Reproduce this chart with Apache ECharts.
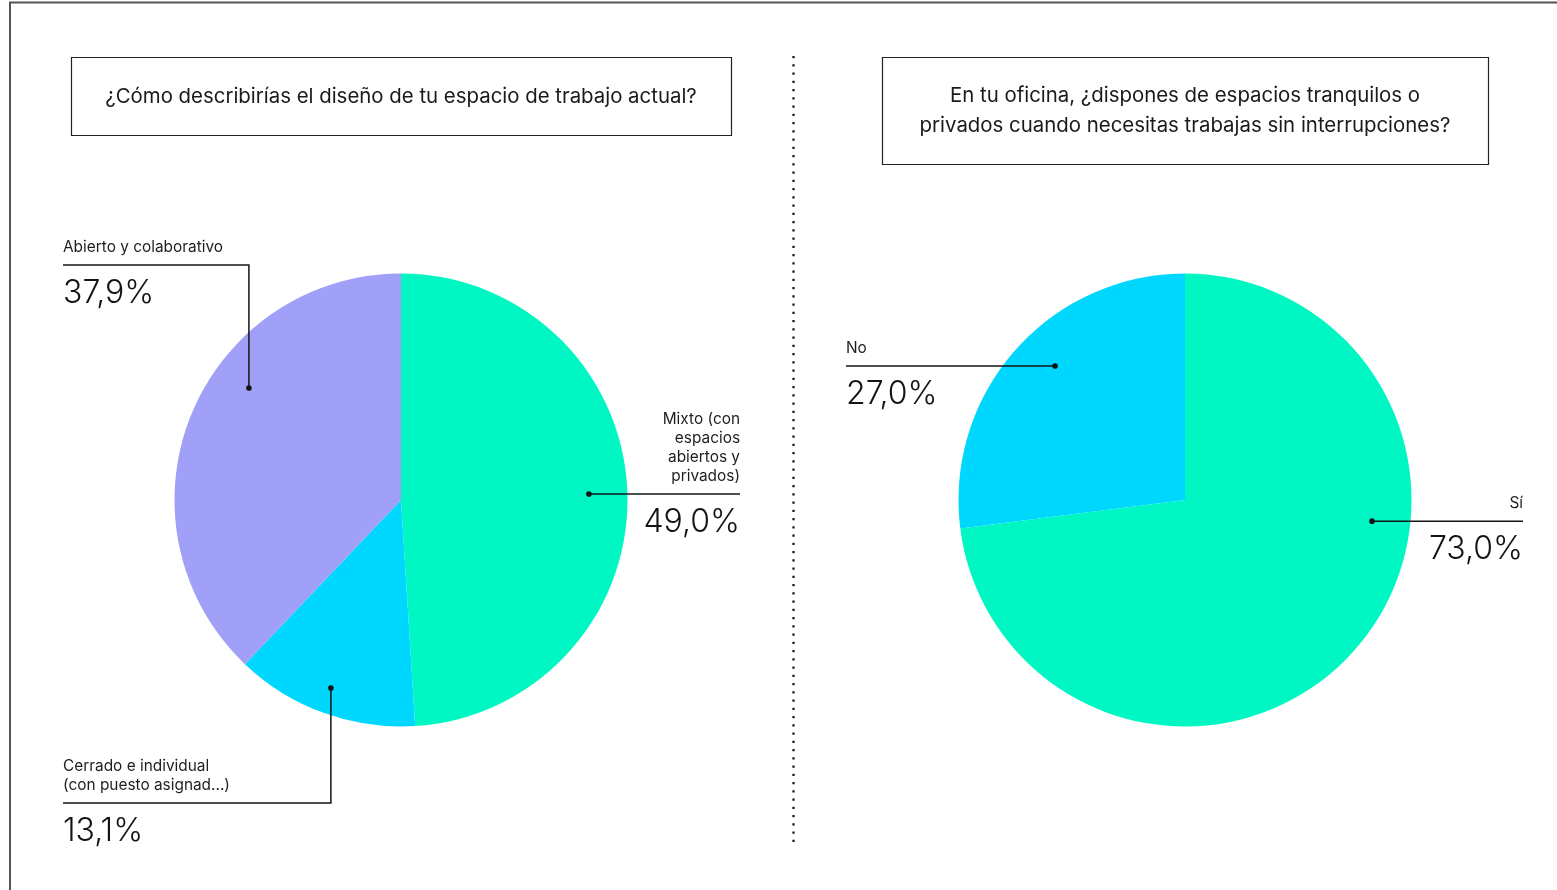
<!DOCTYPE html>
<html>
<head>
<meta charset="utf-8">
<script src="https://cdn.jsdelivr.net/npm/echarts@6/dist/echarts.min.js"></script>
<style>
  html, body { margin: 0; padding: 0; background: #ffffff; }
  #chart { width: 1557px; height: 890px; }
</style>
</head>
<body>
<div id="chart"></div>
<script>
// Survey answers: office layout and access to quiet spaces
const leftTitle = '¿Cómo describirías el diseño de tu espacio de trabajo actual?';
const leftCategories = ['Mixto (con\nespacios\nabiertos y\nprivados)', 'Cerrado e individual\n(con puesto asignad...)', 'Abierto y colaborativo'];
const leftValues = [49.0, 13.1, 37.9];
const leftColors = ['#00F7C4', '#00D7FE', '#A0A0F9'];

const rightTitle = 'En tu oficina, ¿dispones de espacios tranquilos o\nprivados cuando necesitas trabajas sin interrupciones?';
const rightCategories = ['Sí', 'No'];
const rightValues = [73.0, 27.0];
const rightColors = ['#00F7C4', '#00D7FE'];

const FONT = 'Inter, "Noto Sans", sans-serif';
const INK = '#141414';

// Callout placement for each slice: where the dot sits inside the slice,
// and where the rule and the text block go.
const leftCallouts = [
  { frac: 0.5, rFrac: 0.83, kind: 'h', textX: 740, align: 'right' },
  { frac: 0.51, rFrac: 0.886, kind: 'elbow', ruleY: 803, textX: 63, align: 'left' },
  { frac: 0.607, rFrac: 0.834, kind: 'elbow', ruleY: 265, textX: 63, align: 'left' }
];
const rightCallouts = [
  { frac: 0.367, rFrac: 0.831, kind: 'h', textX: 1523, align: 'right' },
  { frac: 0.546, rFrac: 0.824, kind: 'h', textX: 846, align: 'left' }
];

const PIE_R = 226.5;
const leftCenter = [401, 500];
const rightCenter = [1185, 500];

function fmtPct(v) {
  return v.toFixed(1).replace('.', ',') + '%';
}

function pieSeries(names, values, colors, center) {
  return {
    type: 'pie',
    center: center,
    radius: PIE_R,
    startAngle: 90,
    clockwise: true,
    silent: true,
    animation: false,
    z: 2,
    label: { show: false },
    labelLine: { show: false },
    emphasis: { disabled: true },
    itemStyle: { borderWidth: 0 },
    data: names.map((n, i) => ({ name: n, value: values[i], itemStyle: { color: colors[i] } }))
  };
}

const chart = echarts.init(document.getElementById('chart'), null, { renderer: 'canvas' });

const baseGraphics = [
  // outer frame
  { type: 'rect', shape: { x: 10, y: 2.5, width: 1700, height: 1000 },
    style: { fill: 'none', stroke: '#555', lineWidth: 2 }, silent: true },
  // dotted divider
  { type: 'line', shape: { x1: 793.5, y1: 56, x2: 793.5, y2: 843 },
    style: { stroke: '#111', lineWidth: 2.2, lineDash: [2.2, 6.05] }, silent: true },
  // question boxes
  { type: 'rect', shape: { x: 71.5, y: 57.5, width: 660, height: 78 },
    style: { fill: 'none', stroke: '#222', lineWidth: 1.2 }, silent: true },
  { type: 'text', style: { text: leftTitle, x: 401, y: 96.5, align: 'center', verticalAlign: 'middle',
      font: '20.4px ' + FONT, fill: '#1a1a1a' }, silent: true },
  { type: 'rect', shape: { x: 882.5, y: 57.5, width: 606, height: 107 },
    style: { fill: 'none', stroke: '#222', lineWidth: 1.2 }, silent: true },
  { type: 'text', style: { text: rightTitle, x: 1185, y: 111, align: 'center', verticalAlign: 'middle',
      font: '20.4px ' + FONT, lineHeight: 30, fill: '#1a1a1a' }, silent: true }
];

chart.setOption({
  animation: false,
  series: [
    pieSeries(leftCategories, leftValues, leftColors, leftCenter),
    pieSeries(rightCategories, rightValues, rightColors, rightCenter)
  ],
  graphic: baseGraphics
});

// Build the callouts from the slice geometry computed by the pie layout.
function callouts(seriesIndex, names, values, specs) {
  const data = chart.getModel().getSeriesByIndex(seriesIndex).getData();
  const out = [];
  specs.forEach((s, i) => {
    const lay = data.getItemLayout(i);
    const a = lay.startAngle + s.frac * (lay.endAngle - lay.startAngle);
    const r = lay.r * s.rFrac;
    const dx = lay.cx + r * Math.cos(a);
    const dy = lay.cy + r * Math.sin(a);
    let pts, ruleY;
    if (s.kind === 'h') {
      ruleY = dy;
      pts = [[dx, dy], [s.textX, dy]];
    } else {
      ruleY = s.ruleY;
      pts = [[dx, dy], [dx, ruleY], [s.textX, ruleY]];
    }
    out.push({ type: 'polyline', z: 100, shape: { points: pts },
      style: { stroke: INK, lineWidth: 1.5, fill: 'none' }, silent: true });
    out.push({ type: 'circle', z: 101, shape: { cx: dx, cy: dy, r: 2.8 },
      style: { fill: INK }, silent: true });
    out.push({ type: 'text', z: 100, style: { text: names[i], x: s.textX, y: ruleY - 8.5,
      align: s.align, verticalAlign: 'bottom', font: '15.4px ' + FONT, lineHeight: 19, fill: '#1e1e1e' }, silent: true });
    out.push({ type: 'text', z: 100, style: { text: fmtPct(values[i]), x: s.textX, y: ruleY + 28.5,
      align: s.align, verticalAlign: 'middle', font: '300 32px ' + FONT, fill: INK }, silent: true });
  });
  return out;
}

chart.setOption({
  graphic: baseGraphics
    .concat(callouts(0, leftCategories, leftValues, leftCallouts))
    .concat(callouts(1, rightCategories, rightValues, rightCallouts))
});
</script>
</body>
</html>
